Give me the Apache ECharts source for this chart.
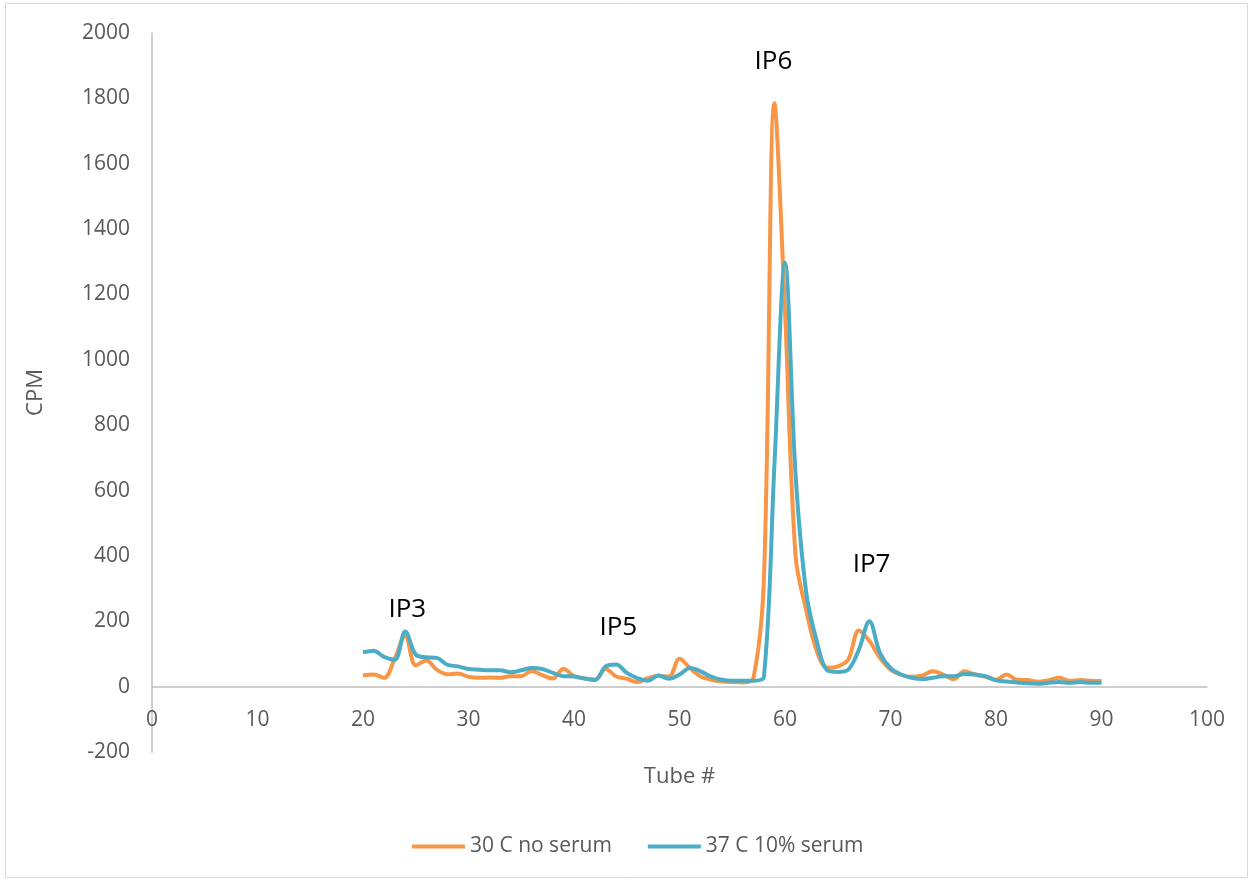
<!DOCTYPE html>
<html>
<head>
<meta charset="utf-8">
<script src="https://cdn.jsdelivr.net/npm/echarts@6/dist/echarts.min.js"></script>
<style>
html,body{margin:0;padding:0;background:#fff;}
#chart{width:1253px;height:881px;}
</style>
</head>
<body>
<div id="chart"></div>
<script>
// Tube numbers
const tubes = [20,21,22,23,24,25,26,27,28,29,30,31,32,33,34,35,36,37,38,39,40,41,42,43,44,45,46,47,48,49,50,51,52,53,54,55,56,57,58,59,60,61,62,63,64,65,66,67,68,69,70,71,72,73,74,75,76,77,78,79,80,81,82,83,84,85,86,87,88,89,90];
// 30 C no serum (CPM)
const noSerum = [34,37,27,85,155,65,80,52,38,40,30,27,28,27,32,32,48,35,25,55,32,25,22,54,31,24,14,26,33,31,85,57,31,21,16,14,13,25,330,1785,1150,400,235,110,58,62,83,172,140,88,52,37,30,34,47,37,23,47,37,30,21,37,21,20,15,20,27,18,20,18,17];
// 37 C 10% serum (CPM)
const serum10 = [105,110,91,82,169,98,90,88,67,62,54,52,50,50,44,50,57,54,42,32,31,25,20,62,68,42,26,18,34,24,37,57,47,31,21,18,18,18,30,680,1297,650,290,140,50,45,52,113,200,103,57,37,27,23,27,32,32,39,37,32,19,16,13,10,9,12,14,12,14,12,12];
const seriesNames = ['30 C no serum', '37 C 10% serum'];
// Peak annotations: [label, tube, CPM]
const peakLabels = [['IP3', 24.2, 235], ['IP5', 44.2, 180], ['IP6', 58.9, 1911], ['IP7', 68.2, 373]];

const FONT = '"Open Sans", "Noto Sans", sans-serif';
const GREY = '#595959';
const AXIS = '#BFBFBF';
const Y_MIN = -200, Y_MAX = 2000;
const GRID = {left: 152, right: 46, top: 33, bottom: 129};
const plotH = 881 - GRID.top - GRID.bottom;
// shift the x axis up so that it sits on CPM = 0
const xOffset = -plotH * (0 - Y_MIN) / (Y_MAX - Y_MIN);

const chart = echarts.init(document.getElementById('chart'));
const pairs = vals => tubes.map((t, i) => [t, vals[i]]);

chart.setOption({
  animation: false,
  backgroundColor: '#fff',
  textStyle: {fontFamily: FONT},
  graphic: [{
    type: 'rect', silent: true,
    shape: {x: 5.5, y: 3.5, width: 1242, height: 874},
    style: {fill: 'none', stroke: '#D9D9D9', lineWidth: 1}
  }],
  grid: Object.assign({containLabel: false}, GRID),
  legend: {
    left: 412, top: 836, padding: 0,
    icon: 'rect', itemWidth: 53, itemHeight: 4, itemGap: 36,
    textStyle: {fontFamily: FONT, fontSize: 21, color: GREY},
    data: seriesNames
  },
  xAxis: {
    type: 'value', min: 0, max: 100, interval: 10,
    offset: xOffset,
    name: 'Tube #', nameLocation: 'middle', nameGap: 79,
    nameTextStyle: {fontFamily: FONT, fontSize: 22, color: GREY},
    axisLine: {onZero: false, lineStyle: {color: AXIS, width: 1.5}},
    axisTick: {show: false},
    splitLine: {show: false},
    axisLabel: {fontFamily: FONT, fontSize: 21, color: GREY, margin: 23}
  },
  yAxis: {
    type: 'value', min: Y_MIN, max: Y_MAX, interval: 200,
    name: 'CPM', nameLocation: 'middle', nameGap: 105,
    nameTextStyle: {fontFamily: FONT, fontSize: 22, color: GREY},
    axisLine: {show: true, onZero: false, lineStyle: {color: AXIS, width: 1.5}},
    axisTick: {show: false},
    splitLine: {show: false},
    axisLabel: {fontFamily: FONT, fontSize: 21, color: GREY, margin: 22,
                formatter: v => String(v)}
  },
  series: [
    {
      name: seriesNames[0], type: 'line', data: pairs(noSerum),
      smooth: 0.35, symbol: 'none', showSymbol: false,
      lineStyle: {color: '#F79646', width: 4},
      itemStyle: {color: '#F79646'},
      markPoint: {
        symbol: 'rect', symbolSize: 1, silent: true,
        itemStyle: {color: 'rgba(0,0,0,0)'},
        label: {show: true, position: 'inside', formatter: p => p.name,
                fontFamily: FONT, fontSize: 26, color: '#000'},
        data: peakLabels.map(p => ({name: p[0], coord: [p[1], p[2]], value: p[0]}))
      }
    },
    {
      name: seriesNames[1], type: 'line', data: pairs(serum10),
      smooth: 0.35, symbol: 'none', showSymbol: false,
      lineStyle: {color: '#4BACC6', width: 4},
      itemStyle: {color: '#4BACC6'}
    }
  ]
});
</script>
</body>
</html>
